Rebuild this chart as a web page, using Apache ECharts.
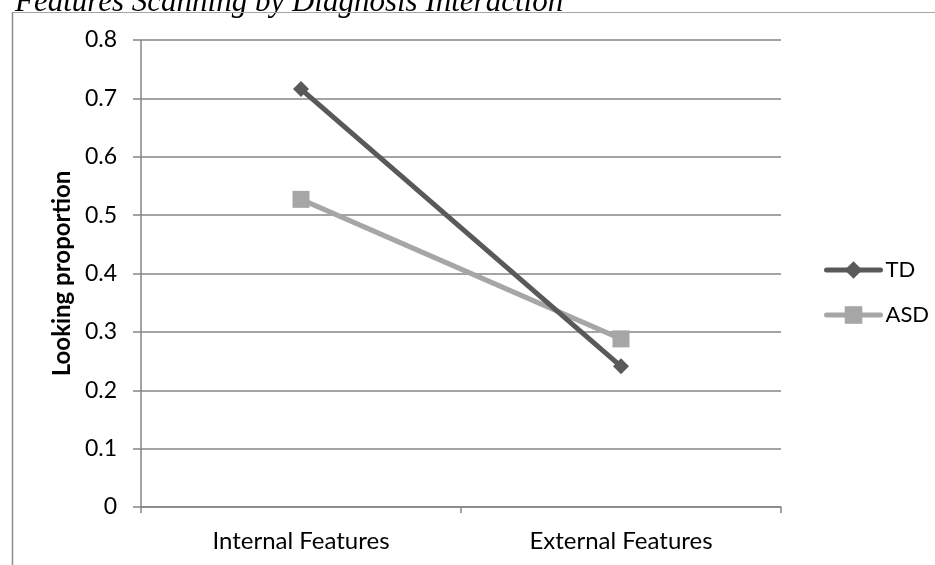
<!DOCTYPE html>
<html><head><meta charset="utf-8">
<script src="https://cdn.jsdelivr.net/npm/echarts@6/dist/echarts.min.js"></script>
<style>html,body{margin:0;padding:0;background:#fff}#c{width:935px;height:565px}</style>
</head><body><div id="c"></div>
<script>
const categories = ['Internal Features', 'External Features'];
const tdValues = [0.716, 0.241];
const asdValues = [0.527, 0.288];
const yTicks = [0, 0.1, 0.2, 0.3, 0.4, 0.5, 0.6, 0.7, 0.8];

const chart = echarts.init(document.getElementById('c'), null, {renderer: 'canvas'});
const font = 'Lato, "Noto Sans", sans-serif';
chart.setOption({
  animation: false,
  backgroundColor: '#fff',
  title: {
    text: 'Features Scanning by Diagnosis Interaction',
    left: 10, top: -18,
    textStyle: {fontFamily: '"Liberation Serif", serif', fontStyle: 'italic', fontWeight: 'normal', fontSize: 31, color: '#000'}
  },
  graphic: [
    {type: 'line', shape: {x1: 12, y1: 12.5, x2: 935, y2: 12.5}, style: {stroke: '#a6a6a6', lineWidth: 1}, z: 10},
    {type: 'line', shape: {x1: 12.5, y1: 12, x2: 12.5, y2: 565}, style: {stroke: '#8c8c8c', lineWidth: 1.5}, z: 10}
  ],
  grid: {left: 141, right: 154, top: 40, bottom: 58},
  legend: {
    orient: 'vertical', left: 819, top: 254, itemGap: 23,
    itemWidth: 54, itemHeight: 22,
    lineStyle: {width: 5, cap: 'round'},
    textStyle: {fontFamily: font, fontSize: 22, color: '#000'},
    data: ['TD', 'ASD']
  },
  xAxis: {
    type: 'category', data: categories, boundaryGap: true,
    axisLine: {lineStyle: {color: '#868686', width: 1.5}},
    axisTick: {show: true, length: 6, lineStyle: {color: '#868686', width: 1.5}},
    axisLabel: {fontFamily: font, fontSize: 24, color: '#000', margin: 22}
  },
  yAxis: {
    type: 'value', min: 0, max: 0.8, interval: 0.1,
    name: 'Looking proportion', nameLocation: 'middle', nameGap: 67,
    nameTextStyle: {fontFamily: font, fontSize: 24, fontWeight: 'bold', color: '#000'},
    axisLine: {show: true, lineStyle: {color: '#868686', width: 1.5}},
    axisTick: {show: true, inside: false, length: 8, lineStyle: {color: '#868686', width: 1.5}},
    axisLabel: {fontFamily: font, fontSize: 23, color: '#000', margin: 24,
      formatter: v => { const t = yTicks.find(x => Math.abs(x - v) < 1e-9); return t === undefined ? '' : String(t); }},
    splitLine: {show: true, lineStyle: {color: '#868686', width: 1.5}}
  },
  series: [
    {name: 'TD', type: 'line', data: tdValues, symbol: 'diamond', symbolSize: 16,
     lineStyle: {color: '#595959', width: 5}, itemStyle: {color: '#595959'}, z: 3},
    {name: 'ASD', type: 'line', data: asdValues, symbol: 'rect', symbolSize: 17,
     lineStyle: {color: '#a6a6a6', width: 5}, itemStyle: {color: '#a6a6a6'}, z: 2}
  ]
});
</script></body></html>
